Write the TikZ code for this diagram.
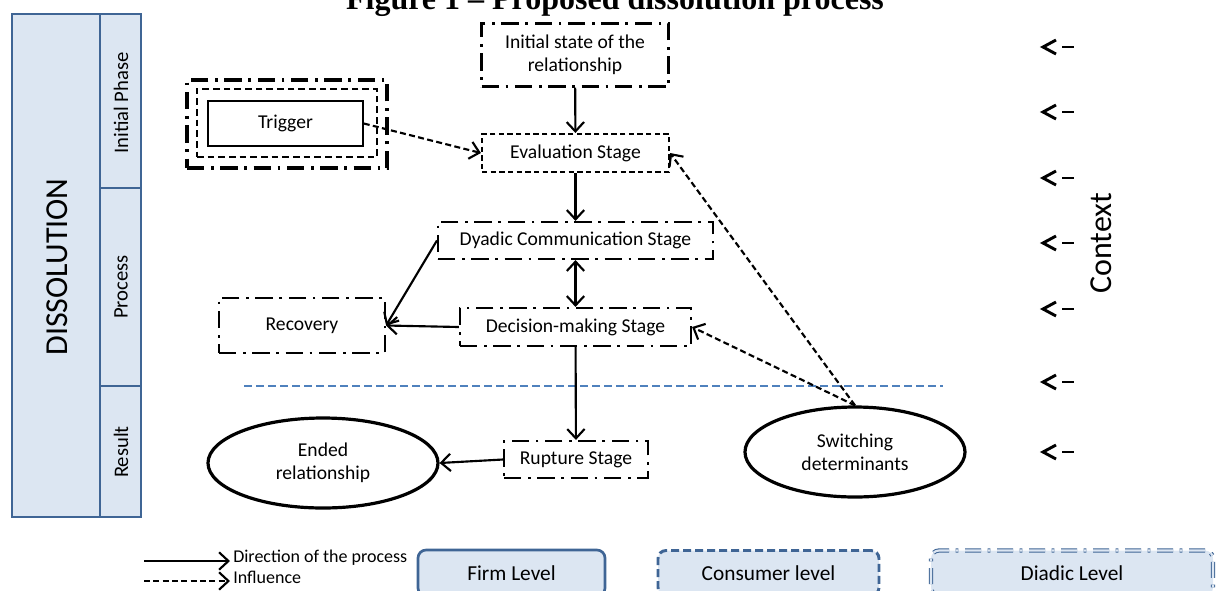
\documentclass[tikz,border=0pt]{standalone}
\usepackage{fontspec}
\setmainfont{Carlito}
\newfontfamily\titlefont{Liberation Serif}
\usetikzlibrary{arrows.meta,shapes.geometric}
\definecolor{panelfill}{HTML}{DCE6F2}
\definecolor{panelborder}{HTML}{3F6595}
\definecolor{sepblue}{HTML}{4F81BD}
\begin{document}
\begin{tikzpicture}[x=0.75pt,y=-0.75pt,
  every node/.style={inner sep=0pt, align=center, font=\fontsize{14.7}{17.5}\selectfont},
  ddbox/.style={draw, line width=1.6pt, dash pattern=on 13pt off 5pt on 2pt off 5pt},
  dbox/.style={draw, line width=1.6pt, dash pattern=on 4pt off 2.5pt},
  oval/.style={ellipse, draw, line width=2.4pt},
  barb/.tip={Straight Barb[length=7pt,width=13pt,line width=1.6pt]},
  proc/.style={draw, line width=1.6pt, -barb},
  infl/.style={proc, dash pattern=on 4.5pt off 2.5pt},
  panel/.style={draw=panelborder, fill=panelfill, line width=1.6pt},
  sidelabel/.style={rotate=90, font=\fontsize{15.5}{18}\selectfont},
  level/.style={fill=panelfill, rounded corners=6pt, font=\fontsize{16}{19}\selectfont},
  ctxline/.style={line width=2.2pt},
]
\useasboundingbox (0,0) rectangle (1216,590);

% title
\node[font=\titlefont\bfseries\fontsize{24}{28}\selectfont, anchor=base] (title) at (615,9) {Figure 1 – Proposed dissolution process};

% left panel
\node[panel, minimum width=66pt, minimum height=377.25pt] (dissol) at (56,265.5) {};
\node[rotate=90, font=\fontsize{24}{28}\selectfont] (dissoltext) at (57,267) {DISSOLUTION};
\node[panel, minimum width=30.75pt, minimum height=130.5pt] (phinit) at (120.5,101) {};
\node[panel, minimum width=30.75pt, minimum height=148.5pt] (phproc) at (120.5,287) {};
\node[panel, minimum width=30.75pt, minimum height=98.25pt] (phres) at (120.5,451.5) {};
\node[sidelabel] (phinittext) at (121,103) {Initial Phase};
\node[sidelabel] (phproctext) at (121,287) {Process};
\node[sidelabel] (phrestext) at (121,452) {Result};

% main stages
\node[ddbox, minimum width=140.25pt, minimum height=47.25pt] (init) at (575,55) {Initial state of the\\relationship};
\node[dbox, minimum width=140.25pt, minimum height=28.5pt] (eval) at (575.5,153) {Evaluation Stage};
\node[ddbox, minimum width=206.25pt, minimum height=27.75pt] (dyadic) at (575.5,240.5) {Dyadic Communication Stage};
\node[ddbox, minimum width=173.25pt, minimum height=28.5pt] (decision) at (575.5,327) {Decision-making Stage};
\node[ddbox, minimum width=124.5pt, minimum height=41.25pt] (recovery) at (302,325.5) {Recovery};
\node[ddbox, minimum width=108pt, minimum height=27.75pt] (rupture) at (576,459.5) {Rupture Stage};
\node[oval, minimum width=172.5pt, minimum height=67.5pt] (ended) at (323,463) {Ended\\relationship};
\node[oval, minimum width=165pt, minimum height=67.5pt] (switch) at (855,452) {Switching\\determinants};

% trigger
\node[draw, line width=2.4pt, dash pattern=on 13pt off 5pt on 2pt off 5pt, minimum width=150pt, minimum height=66pt] (trigouter) at (287,124) {};
\node[draw, line width=2pt, dash pattern=on 5pt off 3pt, minimum width=135pt, minimum height=51pt] (trigmid) at (287,123) {};
\node[draw, line width=1.2pt, minimum width=116.25pt, minimum height=33.75pt] (trigger) at (285.5,123.5) {Trigger};

% separator
\coordinate (sepL) at (244,386);
\coordinate (sepR) at (943,386);
\draw[draw=sepblue, line width=1.5pt, dash pattern=on 6pt off 3pt] (sepL) -- (sepR);

% connectors
\draw[proc] (init) -- (eval);
\draw[proc] (eval) -- (dyadic);
\draw[proc, barb-barb] (dyadic) -- (decision);
\draw[proc] (dyadic.west) -- (recovery.east);
\draw[proc] (decision.west) -- (recovery.east);
\draw[proc] (decision) -- (rupture);
\draw[proc] (rupture.west) -- (ended.east);
\draw[infl] (trigger.east) -- (eval.west);
\draw[infl] (switch.north) -- (eval.east);
\draw[infl] (switch.north) -- (decision.east);

% context
\foreach \yy in {47,112,178,243,309,382,452} {
  \draw[ctxline] (1062,\yy) -- (1074,\yy);
  \draw[ctxline, line join=miter] (1056,\yy-7) -- (1043,\yy) -- (1056,\yy+7);
}
\node[rotate=90, font=\fontsize{24}{28}\selectfont] (context) at (1101,243) {Context};

% legend
\coordinate (l1a) at (144,561); \coordinate (l1b) at (230,561);
\coordinate (l2a) at (144,581); \coordinate (l2b) at (230,581);
\draw[proc] (l1a) -- (l1b);
\draw[infl] (l2a) -- (l2b);
\node[anchor=west, font=\fontsize{13.5}{16}\selectfont] (legdir) at (233,558) {Direction of the process};
\node[anchor=west, font=\fontsize{13.5}{16}\selectfont] (leginf) at (233,577) {Influence};

% levels
\node[level, draw=panelborder, line width=2pt, minimum width=140.25pt, minimum height=34.5pt] (firm) at (511.5,573) {Firm Level};
\node[level, draw=panelborder, line width=2.2pt, dash pattern=on 6pt off 3pt, minimum width=165.75pt, minimum height=33.75pt] (consumer) at (768.5,573) {Consumer level};
\node[level, draw=panelborder, line width=0.8pt, double=panelfill, double distance=1.6pt, dash pattern=on 12pt off 5pt on 2pt off 5pt, minimum width=211.5pt, minimum height=33.75pt] (diadic) at (1072,573) {Diadic Level};
\end{tikzpicture}
\end{document}
